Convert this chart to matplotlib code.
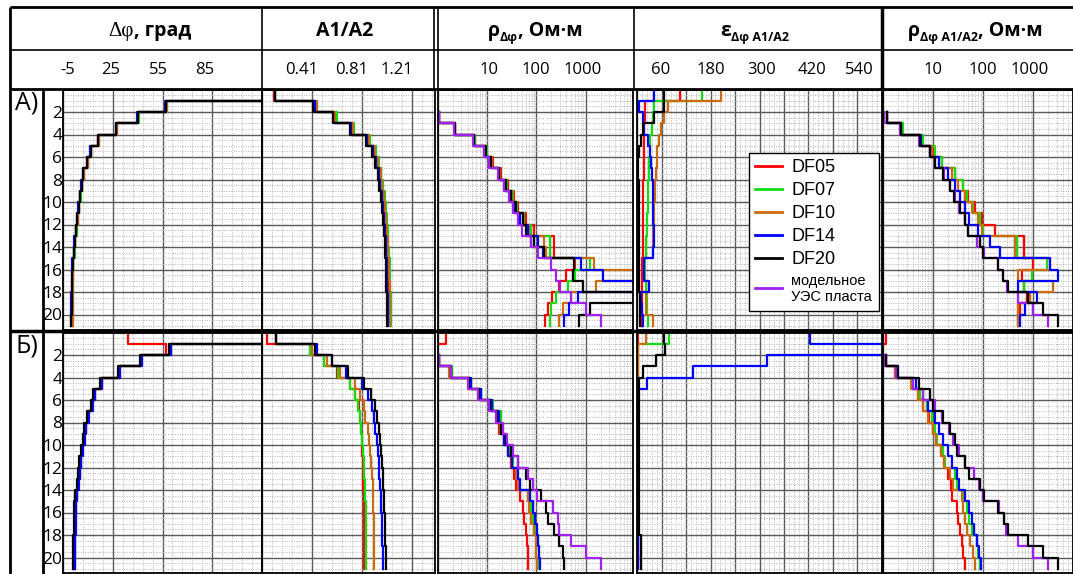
import numpy as np
import matplotlib
matplotlib.use("Agg")
import matplotlib.pyplot as plt
from matplotlib.lines import Line2D
from matplotlib.ticker import FixedLocator, LogLocator, NullFormatter

W, H = 1073, 574
SANS = ["Open Sans", "DejaVu Sans"]
ARIAL = ["Liberation Sans", "DejaVu Sans"]
SERIF = ["Liberation Serif", "DejaVu Serif"]
n = np.nan

# layer boundaries (depth units), one value per layer below
depth_edges = [0, 1, 2, 3, 4, 5, 6, 7, 8, 9, 10, 11, 12, 13, 14, 15, 16, 17, 18, 19, 20, 21]
depth_labels = [2, 4, 6, 8, 10, 12, 14, 16, 18, 20]

series_names = ["DF05", "DF07", "DF10", "DF14", "DF20", "модельное\nУЭС пласта"]
series_colors = ["#ff0000", "#11dd11", "#cc6a10", "#0000ff", "#000000", "#a020f0"]

# --- track 1: delta phi, deg
dphi_A_DF05 = [130, 57.4, 40.4, 27.4, 16.4, 11.8, 9.8, 7.4, 6.4, 5.4, 4.6, 3.8, 3.0, 2.2, 1.8, 1.0, 0.8, 0.6, 0.6, 0.6, 0.4]
dphi_A_DF07 = [130, 57.6, 40.6, 27.6, 16.6, 12.0, 10.0, 7.6, 6.6, 5.6, 4.8, 4.0, 3.2, 2.4, 2.0, 1.2, 1.0, 0.8, 0.8, 0.8, 0.6]
dphi_A_DF10 = [130, 57.5, 40.5, 27.5, 16.5, 11.9, 9.9, 7.5, 6.5, 5.5, 4.7, 3.9, 3.1, 2.3, 1.9, 1.1, 0.9, 0.9, 1.0, 1.0, 1.0]
dphi_A_DF14 = [130, 56.5, 39.8, 27.0, 16.0, 11.4, 9.4, 7.0, 6.0, 5.0, 4.2, 3.4, 2.6, 1.8, 1.4, 0.6, 0.4, 0.2, 0.0, 0.0, -0.2]
dphi_A_DF20 = [130, 57.2, 40.2, 27.2, 16.2, 11.6, 9.6, 7.2, 6.2, 5.2, 4.4, 3.6, 2.8, 2.0, 1.6, 0.8, 0.6, 0.4, 0.2, 0.2, 0.0]

dphi_B_DF05 = [34.2, 57.2, 42.2, 29.4, 18.4, 14.2, 12.6, 10.2, 8.8, 7.8, 6.8, 5.8, 5.2, 4.2, 3.4, 2.8, 2.6, 2.4, 2.2, 2.2, 2.0]
dphi_B_DF07 = [130, 59.8, 41.8, 28.8, 17.8, 13.8, 12.2, 9.8, 8.4, 7.4, 6.4, 5.4, 4.8, 3.8, 3.0, 2.4, 2.2, 2.0, 1.8, 1.8, 1.6]
dphi_B_DF10 = [130, 60.0, 42.0, 29.0, 18.0, 14.0, 12.4, 10.0, 8.6, 7.6, 6.6, 5.6, 5.0, 4.0, 3.2, 2.6, 2.4, 2.2, 2.0, 2.0, 1.8]
dphi_B_DF14 = [130, 60.2, 42.6, 29.6, 18.6, 14.4, 12.8, 10.4, 9.0, 8.0, 7.0, 6.0, 5.4, 4.4, 3.6, 3.0, 2.8, 2.6, 2.4, 2.4, 2.2]
dphi_B_DF20 = [130, 59.2, 41.2, 28.2, 17.2, 13.2, 11.6, 9.2, 7.8, 6.8, 5.8, 4.8, 4.2, 3.2, 2.4, 1.8, 1.6, 1.4, 1.2, 1.2, 1.0]

# --- track 2: A1/A2
ratio_A_DF05 = [0.105, 0.44, 0.59, 0.73, 0.86, 0.908, 0.934, 0.952, 0.966, 0.98, 0.987, 0.995, 1.003, 1.009, 1.014, 1.018, 1.02, 1.023, 1.026, 1.026, 1.026]
ratio_A_DF07 = [0.115, 0.45, 0.605, 0.74, 0.87, 0.918, 0.944, 0.962, 0.976, 0.99, 0.997, 1.005, 1.013, 1.019, 1.024, 1.028, 1.03, 1.033, 1.036, 1.036, 1.036]
ratio_A_DF10 = [0.115, 0.445, 0.595, 0.735, 0.865, 0.913, 0.939, 0.957, 0.971, 0.985, 0.992, 1.0, 1.008, 1.014, 1.019, 1.023, 1.025, 1.028, 1.031, 1.031, 1.031]
ratio_A_DF14 = [0.115, 0.43, 0.58, 0.72, 0.85, 0.896, 0.922, 0.94, 0.954, 0.968, 0.975, 0.983, 0.991, 0.997, 1.002, 1.006, 1.008, 1.011, 1.014, 1.014, 1.014]
ratio_A_DF20 = [0.115, 0.42, 0.575, 0.71, 0.84, 0.888, 0.914, 0.932, 0.946, 0.96, 0.967, 0.975, 0.983, 0.989, 0.994, 0.998, 1.0, 1.003, 1.006, 1.006, 1.006]

ratio_B_DF05 = [0.053, 0.394, 0.501, 0.607, 0.709, 0.754, 0.781, 0.794, 0.799, 0.805, 0.810, 0.813, 0.815, 0.818, 0.820, 0.821, 0.822, 0.823, 0.824, 0.825, 0.826]
ratio_B_DF07 = [0.12, 0.394, 0.501, 0.613, 0.714, 0.754, 0.773, 0.789, 0.799, 0.807, 0.815, 0.821, 0.826, 0.831, 0.834, 0.836, 0.838, 0.839, 0.840, 0.841, 0.842]
ratio_B_DF10 = [0.12, 0.407, 0.527, 0.634, 0.754, 0.789, 0.821, 0.834, 0.853, 0.866, 0.874, 0.882, 0.887, 0.893, 0.895, 0.898, 0.900, 0.903, 0.905, 0.906, 0.906]
ratio_B_DF14 = [0.12, 0.447, 0.567, 0.682, 0.807, 0.853, 0.887, 0.901, 0.914, 0.927, 0.935, 0.941, 0.946, 0.951, 0.959, 0.962, 0.965, 0.967, 0.970, 0.973, 0.975]
ratio_B_DF20 = [0.122, 0.434, 0.567, 0.693, 0.826, 0.879, 0.914, 0.927, 0.941, 0.954, 0.962, 0.967, 0.972, 0.978, 0.981, 0.985, 0.988, 0.991, 0.994, 0.996, 0.999]

# --- track 3: rho_dphi, Ohm*m
rho_A_DF05 = [n, n, 1.06, 2.25, 5.7, 10.0, 12.9, 19.0, 26.8, 35.5, 42.8, 61.2, 90.4, 230, 230, 605, 397, 291, 203, 169, 151]
rho_A_DF07 = [n, n, 1.06, 2.22, 5.6, 9.8, 12.5, 18.4, 24.9, 32.8, 40.2, 56.6, 77.3, 191, 191, 1240, 605, 430, 249, 197, 188]
rho_A_DF10 = [n, n, 1.06, 2.15, 5.47, 9.1, 12.3, 17.8, 24.5, 31.8, 39.0, 54.0, 71.5, 144, 156, 1448, 20000, 1615, 502, 340, 282]
rho_A_DF14 = [n, n, 1.06, 2.2, 5.3, 9.1, 11.6, 17.6, 22.9, 31.0, 35.5, 47.0, 66.2, 109, 133, 801, 2206, 20000, 685, 464, 367]
rho_A_DF20 = [n, n, 1.06, 2.2, 5.47, 9.43, 11.9, 17.6, 24.0, 30.4, 38.4, 52.4, 61.2, 90.4, 140, 587, 542, 865, 20000, 1240, 741]
rho_A_model = [n, n, 1.06, 2.15, 5.2, 8.73, 11.0, 16.3, 21.5, 28.1, 32.8, 42.8, 50.0, 77.3, 106, 197, 249, 305, 502, 1010, 2040]

rho_B_DF05 = [1.45, 0.5, 1.06, 1.8, 4.68, 7.2, 11.9, 16.3, 17.6, 22.2, 26.8, 30.4, 35.5, 38.4, 47.0, 52.4, 56.6, 61.2, 64.0, 66.2, 68.0]
rho_B_DF07 = [n, n, 1.06, 1.9, 4.68, 7.47, 12.9, 19.0, 20.6, 23.0, 28.1, 32.8, 40.2, 44.8, 75.0, 77.3, 86.0, 97.7, 106, 111, 114]
rho_B_DF10 = [n, n, 1.06, 1.7, 4.4, 7.2, 11.9, 16.8, 18.3, 22.2, 26.8, 31.5, 38.4, 42.8, 66.2, 71.5, 79.0, 90.4, 97.7, 100, 102]
rho_B_DF14 = [n, n, 1.06, 1.84, 4.68, 7.47, 12.5, 17.6, 19.0, 22.2, 26.8, 31.7, 42.8, 47.0, 75.0, 83.6, 94.0, 102, 109, 114, 120]
rho_B_DF20 = [n, n, 1.06, 1.8, 4.33, 6.9, 11.5, 15.6, 19.0, 24.0, 30.4, 42.8, 61.2, 75.0, 123, 156, 169, 230, 291, 340, 356]
rho_B_model = [n, n, 1.06, 1.84, 4.0, 6.39, 11.0, 15.1, 20.6, 25.2, 32.8, 42.8, 66.2, 83.6, 102, 213, 269, 291, 502, 1010, 2040]

# --- track 4: epsilon
eps_A_DF05 = [106, 20, 19, 18, 17, 17, 16, 16, 15, 15, 15, 14, 14, 14, 14, 13, 13, 13, 13, 13, 13]
eps_A_DF07 = [160, 42, 40, 36, 33, 31, 30, 29, 28, 27, 26, 25, 24, 23, 22, 19, 19, 23, 24, 25, 26]
eps_A_DF10 = [205, 75, 67, 59, 54, 50, 48, 46, 45, 44, 42, 41, 40, 39, 38, 16, 16, 30, 22, 22, 38]
eps_A_DF14 = [42, 6, 14, 18, 28, 32, 35, 37, 38, 39, 40, 40, 41, 41, 38, 16, 17, 29, 10, 13, 15]
eps_A_DF20 = [67, 67, 42, 14, 9, 6, 3, 3, 4, 4, 4, 4, 4, 4, 4, 4, 5, 6, 7, 8, 8]

eps_B_DF05 = [2, 2, 2, 2, 2, 2, 2, 2, 2, 2, 2, 2, 2, 2, 2, 2, 2, 2, 2, 2, 2]
eps_B_DF07 = [79, 3, 3, 3, 3, 3, 3, 3, 3, 3, 3, 3, 3, 3, 3, 3, 3, 3, 3, 3, 3]
eps_B_DF10 = [22, 3, 3, 3, 3, 3, 3, 3, 3, 3, 3, 3, 3, 3, 3, 3, 3, 3, 3, 3, 3]
eps_B_DF14 = [424, 700, 319, 136, 24, 2.5, 2.5, 2.5, 2.5, 2.5, 2.5, 2.5, 2.5, 2.5, 2.5, 2.5, 2.5, 2.5, 2.5, 2.5, 2.5]
eps_B_DF20 = [65, 69, 46, 14, 5.7, 4, 4, 4, 4, 4, 4, 4, 4, 4, 4, 4, 4, 4, 9, 9, 9]

# --- track 5: rho_dphi A1/A2, Ohm*m
rho2_A_DF05 = [n, n, 1.18, 2.4, 5.9, 10.5, 14.9, 27.5, 39.2, 50.9, 69.2, 96, 174, 661, 661, 1016, 593, 661, 771, 550, 509]
rho2_A_DF07 = [n, n, 1.18, 2.5, 6.21, 11.0, 14.9, 27.5, 40.4, 48.6, 62.1, 87.1, 101, 471, 471, 1876, 940, 661, 509, 509, 509]
rho2_A_DF10 = [n, n, 1.18, 2.3, 5.7, 9.4, 13.4, 23.6, 31.7, 43.6, 59.3, 80.7, 95, 437, 437, 2188, 509, 2552, 871, 509, 509]
rho2_A_DF14 = [n, n, 1.18, 2.3, 5.7, 8.9, 13.4, 20.3, 27.5, 34.7, 43.6, 53.3, 80.7, 138, 219, 2188, 3212, 509, 1183, 692, 550]
rho2_A_DF20 = [n, n, 1.18, 2.26, 5.5, 8.71, 11.0, 16.1, 21.9, 26.3, 34.7, 43.6, 50.9, 87.1, 101, 203, 255, 321, 807, 1610, 3212]

rho2_B_DF05 = [1.15, 0.5, 1.15, 1.74, 3.8, 5.09, 6.41, 8.45, 10.0, 11.5, 14.5, 16.5, 20.3, 22.5, 23.6, 29.7, 31.7, 34.7, 37.4, 40.4, 43.6]
rho2_B_DF07 = [n, n, 1.15, 1.88, 4.04, 5.5, 7.47, 9.4, 11.0, 12.2, 15.5, 17.4, 27.5, 29.7, 39.2, 48.6, 53.3, 59.3, 74.7, 80.7, 87.1]
rho2_B_DF10 = [n, n, 1.15, 1.74, 3.57, 5.09, 6.21, 8.07, 9.8, 11.5, 14.5, 16.5, 21.9, 25.0, 37.4, 40.4, 43.6, 48.6, 55.0, 62.1, 69.2]
rho2_B_DF14 = [n, n, 1.15, 2.03, 4.57, 6.41, 8.07, 11.0, 13.4, 16.1, 20.3, 23.6, 29.7, 33.6, 43.6, 53.3, 59.3, 66.1, 74.7, 84.5, 89.8]
rho2_B_DF20 = [n, n, 1.15, 2.03, 5.33, 8.71, 10.2, 16.1, 21.9, 27.5, 30.7, 43.6, 53.3, 87.1, 105, 203, 263, 321, 807, 1610, 3212]

header_ticks = [
    (["-5", "25", "55", "85"], [68, 111, 158, 205]),
    (["0.41", "0.81", "1.21"], [302, 352, 397]),
    (["10", "100", "1000"], [489, 536, 583]),
    (["60", "180", "300", "420", "540"], [661, 711, 762, 812, 859]),
    (["10", "100", "1000"], [933, 983, 1030]),
]

# drawing order per track: (values, series index)
panels = {
    "А)": [
        [(dphi_A_DF05, 0), (dphi_A_DF07, 1), (dphi_A_DF10, 2), (dphi_A_DF14, 3), (dphi_A_DF20, 4)],
        [(ratio_A_DF05, 0), (ratio_A_DF07, 1), (ratio_A_DF10, 2), (ratio_A_DF14, 3), (ratio_A_DF20, 4)],
        [(rho_A_DF05, 0), (rho_A_DF07, 1), (rho_A_DF10, 2), (rho_A_DF14, 3), (rho_A_DF20, 4), (rho_A_model, 5)],
        [(eps_A_DF05, 0), (eps_A_DF07, 1), (eps_A_DF10, 2), (eps_A_DF14, 3), (eps_A_DF20, 4)],
        [(rho2_A_DF05, 0), (rho2_A_DF07, 1), (rho2_A_DF10, 2), (rho2_A_DF14, 3), (rho_A_model, 5), (rho2_A_DF20, 4)],
    ],
    "Б)": [
        [(dphi_B_DF05, 0), (dphi_B_DF07, 1), (dphi_B_DF10, 2), (dphi_B_DF14, 3), (dphi_B_DF20, 4)],
        [(ratio_B_DF05, 0), (ratio_B_DF07, 1), (ratio_B_DF10, 2), (ratio_B_DF14, 3), (ratio_B_DF20, 4)],
        [(rho_B_DF05, 0), (rho_B_DF07, 1), (rho_B_DF10, 2), (rho_B_DF14, 3), (rho_B_DF20, 4), (rho_B_model, 5)],
        [(eps_B_DF05, 0), (eps_B_DF07, 1), (eps_B_DF10, 2), (eps_B_DF14, 3), (eps_B_DF20, 4)],
        [(rho2_B_DF05, 0), (rho2_B_DF07, 1), (rho2_B_DF10, 2), (rho2_B_DF14, 3), (rho_B_model, 5), (rho2_B_DF20, 4)],
    ],
}

# track geometry in pixels and axis setup
tracks = [
    dict(x0=63, x1=262, scale="linear", lim=(-5, 115),
         major=[-5, 25, 55, 85, 115], minor=np.arange(-5, 115, 6)),
    dict(x0=262, x1=435, scale="linear", lim=(0.01, 1.39),
         major=[0.01, 0.41, 0.81, 1.21], minor=np.arange(0.01, 1.39, 0.08)),
    dict(x0=438, x1=633, scale="log", lim=(1, 10 ** 3.96)),
    dict(x0=637, x1=882, scale="linear", lim=(0, 600),
         major=np.arange(0, 601, 60), minor=np.arange(0, 600, 12)),
    dict(x0=883, x1=1073, scale="log", lim=(1, 10 ** 3.8)),
]
panel_y = {"А)": (89.5, 330.25), "Б)": (332.5, 573.25)}
DEPTH_MAX = 21.4

fig = plt.figure(figsize=(W / 100, H / 100), dpi=100)
fig.patch.set_facecolor("white")


def fx(x):
    return x / W


def fy(y):
    return 1 - y / H


def add_ax(x0, x1, y0, y1):
    return fig.add_axes([fx(x0), fy(y1), (x1 - x0) / W, (y1 - y0) / H])


def fline(x0, y0, x1, y1, lw=1.5):
    fig.add_artist(Line2D([fx(x0), fx(x1)], [fy(y0), fy(y1)], transform=fig.transFigure,
                          color="black", lw=lw, solid_capstyle="butt", zorder=10))


def steps(values):
    v = np.asarray(values, dtype=float)
    d = np.asarray(depth_edges, dtype=float)
    return np.repeat(v, 2), np.column_stack([d[:-1], d[1:]]).ravel()


legend_ax = None
for pname, (py0, py1) in panel_y.items():
    for k, (tr, curves) in enumerate(zip(tracks, panels[pname])):
        ax = add_ax(tr["x0"], tr["x1"], py0, py1)
        ax.set_xscale(tr["scale"])
        ax.set_xlim(*tr["lim"])
        ax.set_ylim(DEPTH_MAX, 0)
        if tr["scale"] == "log":
            ax.xaxis.set_major_locator(LogLocator(base=10, numticks=10))
            ax.xaxis.set_minor_locator(LogLocator(base=10, subs=np.arange(2, 10), numticks=20))
        else:
            ax.xaxis.set_major_locator(FixedLocator(tr["major"]))
            ax.xaxis.set_minor_locator(FixedLocator(tr["minor"]))
        ax.xaxis.set_major_formatter(NullFormatter())
        ax.xaxis.set_minor_formatter(NullFormatter())
        ax.yaxis.set_major_locator(FixedLocator(depth_labels))
        ax.yaxis.set_minor_locator(FixedLocator(np.arange(0, 21.5, 0.5)))
        ax.tick_params(which="both", length=0)
        if k == 0:
            ax.set_yticklabels([str(d) for d in depth_labels], family=SANS, fontsize=12.5)
            ax.tick_params(axis="y", pad=0.5)
        else:
            ax.tick_params(axis="y", labelleft=False)
        ax.set_axisbelow(True)
        ax.grid(which="major", color="#5a5a5a", lw=1.0)
        ax.grid(which="minor", color="#b4b4b4", lw=0.7, ls=(0, (1, 1.5)))
        for sp in ax.spines.values():
            sp.set_linewidth(1.3)
        for vals, si in curves:
            xs, ys = steps(vals)
            ax.plot(xs, ys, color=series_colors[si], lw=1.6)
        if pname == "А)" and k == 3:
            legend_ax = ax
    fig.text(fx(27), fy(py0 + 1), pname, ha="center", va="top", fontsize=18, family=SANS)

# legend
handles = [Line2D([], [], color=c, lw=2) for c in series_colors]
leg = legend_ax.legend(handles, series_names, loc="upper left",
                       bbox_to_anchor=(fx(749), fy(153)), bbox_transform=fig.transFigure,
                       borderaxespad=0, fancybox=False, framealpha=1, edgecolor="black",
                       prop={"family": ARIAL, "size": 13}, handlelength=1.5,
                       handletextpad=0.5, labelspacing=0.33, borderpad=0.35)
leg.get_frame().set_linewidth(1.0)
leg.get_texts()[-1].set_fontsize(10.5)

# table frame
fline(10, 7, 1073, 7, 2.0)
fline(10, 50, 1073, 50, 1.2)
fline(10, 89, 1073, 89, 2.0)
fline(10, 331, 1073, 331, 2.5)
fline(10, 7, 10, 574, 2.0)
fline(43, 89, 43, 574, 2.0)
for xv in (262, 634):
    fline(xv, 7, xv, 89, 1.2)
fline(434, 7, 434, 89, 1.2)
fline(438, 7, 438, 89, 1.2)
fline(882, 7, 882, 89, 2.5)

# header titles (rich text with subscripts)
renderer = fig.canvas.get_renderer()


def rich(xc, ybase, parts):
    items = []
    for s, size, weight, fam, dy in parts:
        t = fig.text(0, 0, s, fontsize=size, fontweight=weight, family=fam, ha="left", va="baseline")
        items.append((t, t.get_window_extent(renderer=renderer).width, dy))
    x = xc - sum(w for _, w, _ in items) / 2
    for t, w, dy in items:
        t.set_position((fx(x), fy(ybase + dy)))
        x += w


YB = 36
rich(150, YB, [("Δφ", 15, "normal", SERIF, 0), (", град", 14, "bold", SANS, 0)])
rich(345, YB, [("A1/A2", 14, "bold", SANS, 0)])
rich(535, YB, [("ρ", 14, "bold", SANS, 0), ("Δφ", 9, "bold", SANS, 5), (", Ом·м", 14, "bold", SANS, 0)])
rich(755, YB, [("ε", 14, "bold", SANS, 0), ("Δφ A1/A2", 9, "bold", SANS, 5)])
rich(975, YB, [("ρ", 14, "bold", SANS, 0), ("Δφ A1/A2", 9, "bold", SANS, 5), (", Ом·м", 14, "bold", SANS, 0)])

for labels, xs in header_ticks:
    for lab, xv in zip(labels, xs):
        fig.text(fx(xv), fy(70), lab, ha="center", va="center", fontsize=12, family=SANS)

fig.savefig("out.png", dpi=100)
